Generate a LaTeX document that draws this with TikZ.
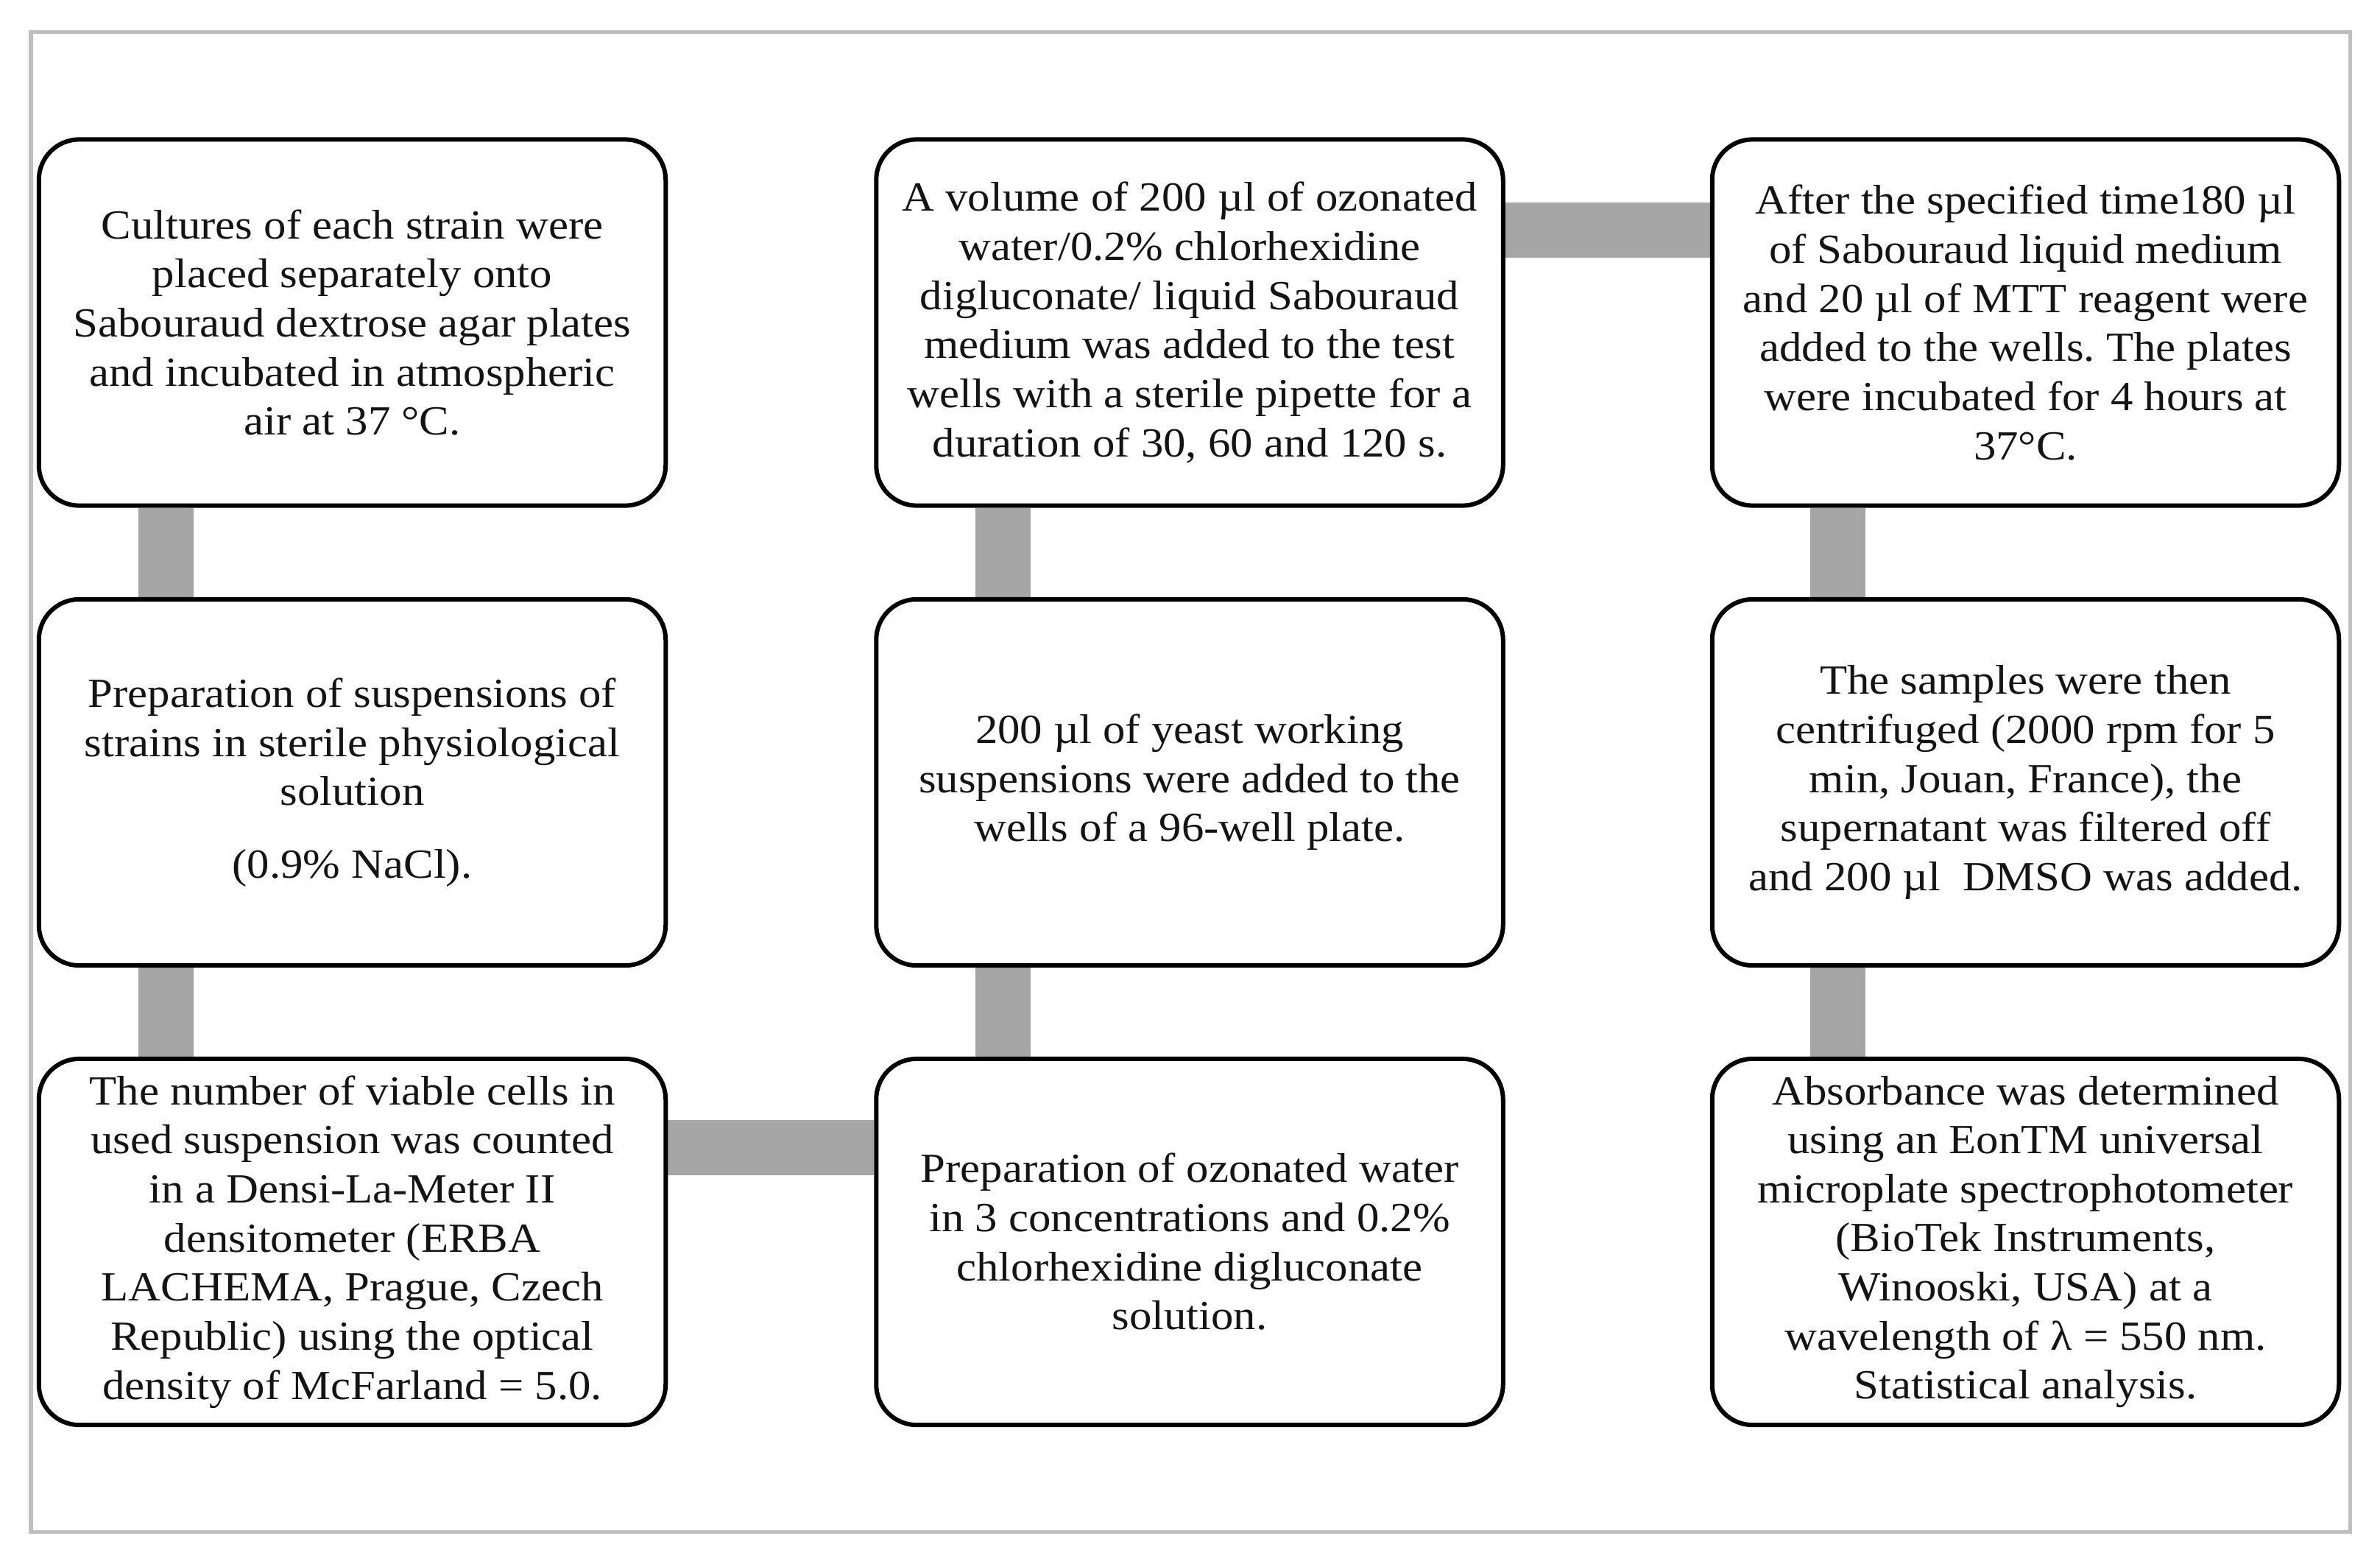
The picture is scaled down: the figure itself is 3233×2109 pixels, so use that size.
\documentclass[tikz,border=0pt]{standalone}
\usepackage{fontspec}
\setmainfont[FakeStretch=1.08]{Liberation Serif}
\usetikzlibrary{backgrounds}
\definecolor{bargray}{RGB}{166,166,166}
\definecolor{framegray}{RGB}{191,191,191}
\definecolor{inkc}{RGB}{20,20,20}
\frenchspacing
\begin{document}
\begin{tikzpicture}[x=0.01cm,y=-0.01cm,
  stepbox/.style={draw=black, line width=0.06cm, rounded corners=0.55cm, fill=white,
    minimum width=8.51cm, minimum height=4.97cm, align=center, inner sep=0pt,
    font=\fontsize{16}{18.95}\selectfont, text=inkc},
  bar/.style={draw=bargray, line width=0.75cm}]
\useasboundingbox (0,0) rectangle (3233,2109);
% column 1
\node[stepbox] (a1) at (478.5,438) {Cultures of each strain were\\ placed separately onto\\ Sabouraud dextrose agar plates\\ and incubated in atmospheric\\ air at 37 °C.};
\node[stepbox] (a2) at (478.5,1062.5) {Preparation of suspensions of\\ strains in sterile physiological\\ solution\\[9pt] (0.9\% NaCl).};
\node[stepbox] (a3) at (478.5,1686.5) {The number of viable cells in\\ used suspension was counted\\ in a Densi-La-Meter II\\ densitometer (ERBA\\ LACHEMA, Prague, Czech\\ Republic) using the optical\\ density of McFarland = 5.0.};
% column 2
\node[stepbox] (b1) at (1616,438) {A volume of 200 µl of ozonated\\ water/0.2\% chlorhexidine\\ digluconate/ liquid Sabouraud\\ medium was added to the test\\ wells with a sterile pipette for a\\ duration of 30, 60 and 120 s.};
\node[stepbox] (b2) at (1616,1062.5) {200 µl of yeast working\\ suspensions were added to the\\ wells of a 96-well plate.};
\node[stepbox] (b3) at (1616,1686.5) {Preparation of ozonated water\\ in 3 concentrations and 0.2\%\\ chlorhexidine digluconate\\ solution.};
% column 3
\node[stepbox] (c1) at (2751.5,438) {After the specified time180 µl\\ of Sabouraud liquid medium\\ and 20 µl of MTT reagent were\\ added to the wells. The plates\\ were incubated for 4 hours at\\ 37°C.};
\node[stepbox] (c2) at (2751.5,1062.5) {The samples were then\\ centrifuged (2000 rpm for 5\\ min, Jouan, France), the\\ supernatant was filtered off\\ and 200 µl\ \ DMSO was added.};
\node[stepbox] (c3) at (2751.5,1686.5) {Absorbance was determined\\ using an EonTM universal\\ microplate spectrophotometer\\ (BioTek Instruments,\\ Winooski, USA) at a\\ wavelength of λ = 550 nm.\\ Statistical analysis.};
\begin{scope}[on background layer]
\fill[white] (0,0) rectangle (3233,2109);
\draw[framegray, line width=0.05cm] (42,44) rectangle (3192,2080);
\draw[bar] ([xshift=1.76cm]a1.south west) -- ([xshift=1.76cm]a2.north west);
\draw[bar] ([xshift=1.76cm]a2.south west) -- ([xshift=1.76cm]a3.north west);
\draw[bar] ([yshift=-1.24cm]a3.north east) -- ([yshift=-1.24cm]b3.north west);
\draw[bar] ([xshift=1.75cm]b3.north west) -- ([xshift=1.75cm]b2.south west);
\draw[bar] ([xshift=1.75cm]b2.north west) -- ([xshift=1.75cm]b1.south west);
\draw[bar] ([yshift=-1.26cm]b1.north east) -- ([yshift=-1.26cm]c1.north west);
\draw[bar] ([xshift=1.74cm]c1.south west) -- ([xshift=1.74cm]c2.north west);
\draw[bar] ([xshift=1.74cm]c2.south west) -- ([xshift=1.74cm]c3.north west);
\end{scope}
\end{tikzpicture}
\end{document}
